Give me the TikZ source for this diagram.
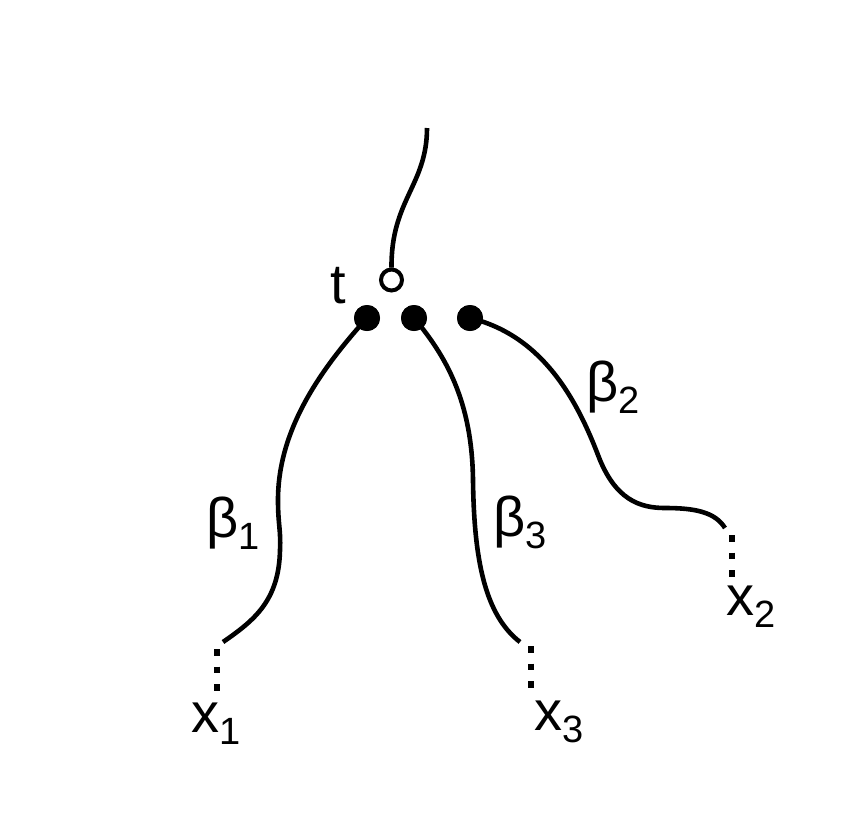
\documentclass[tikz,border=0pt]{standalone}
\usepackage{fontspec}
\setmainfont{Liberation Sans}
\newcommand\subl[1]{\raisebox{-12pt}{\fontsize{38}{40}\selectfont #1}}
\begin{document}
\begin{tikzpicture}[x=1pt,y=-1pt,
  curve/.style={line width=4.6pt},
  dotline/.style={line width=6.5pt,dash pattern=on 6.5pt off 11pt},
  fdot/.style={circle,fill=black,inner sep=0pt,minimum size=26pt},
  odot/.style={circle,draw=black,fill=white,line width=4pt,inner sep=0pt,minimum size=21pt},
  lab/.style={anchor=base west,inner sep=0pt,font=\fontsize{56}{60}\selectfont}]
\useasboundingbox (0,0) rectangle (844,815);

% coordinates
\coordinate (top) at (427,128);
\coordinate (e1) at (223,642);
\coordinate (e3) at (520,642);
\coordinate (e2) at (725,528);
\coordinate (v1a) at (217,649);
\coordinate (v1b) at (217,692);
\coordinate (v3a) at (531,646);
\coordinate (v3b) at (531,689);
\coordinate (v2a) at (732,535);
\coordinate (v2b) at (732,578);

% nodes
\node[odot] (oc) at (391.5,280) {};
\node[fdot] (d1) at (367,318) {};
\node[fdot] (d2) at (414,318) {};
\node[fdot] (d3) at (470,318) {};

% connectors
\draw[curve] (top) .. controls (427,185) and (391,200) .. (oc.north);
\draw[curve] (d1.center) .. controls (320,370) and (278,430) .. (278,500)
  .. controls (278,525) and (281,530) .. (280,550)
  .. controls (279,600) and (255,620) .. (e1);
\draw[curve] (d2.center) .. controls (445,355) and (472,400) .. (473,480)
  .. controls (474,560) and (485,615) .. (e3);
\draw[curve] (d3.center) .. controls (540,335) and (575,395) .. (598,455)
  .. controls (615,500) and (640,508) .. (665,508)
  .. controls (695,508) and (715,512) .. (e2);
\node[fdot] at (d1) {};
\node[fdot] at (d2) {};
\node[fdot] at (d3) {};

\draw[dotline] (v1a) -- (v1b);
\draw[dotline] (v3a) -- (v3b);
\draw[dotline] (v2a) -- (v2b);

% labels
\node[lab] (lt) at (330,303) {t};
\node[lab] (lb1) at (206,537) {β\subl{1}};
\node[lab] (lb3) at (493,536) {β\subl{3}};
\node[lab] (lb2) at (586,401) {β\subl{2}};
\node[lab] (lx1) at (191,732) {x\subl{1}};
\node[lab] (lx3) at (534,730) {x\subl{3}};
\node[lab] (lx2) at (726,615) {x\subl{2}};
\end{tikzpicture}
\end{document}
